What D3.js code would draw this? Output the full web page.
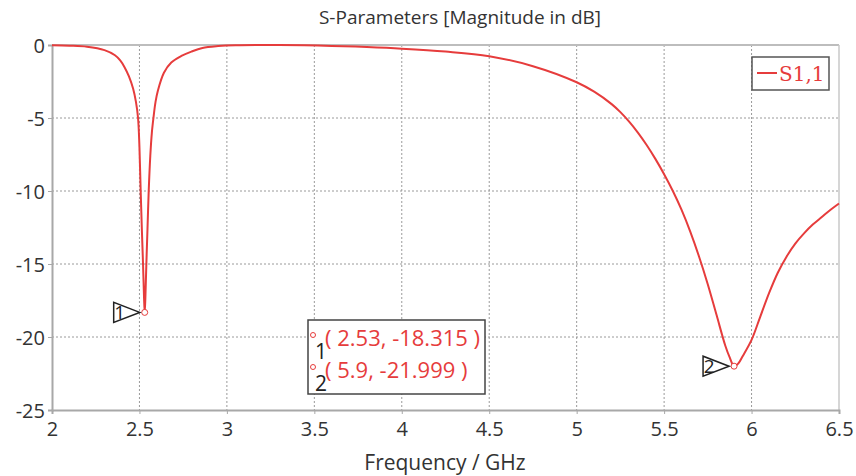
<!DOCTYPE html>
<html><head><meta charset="utf-8">
<script src="https://cdn.jsdelivr.net/npm/d3@7"></script>
<style>
html,body{margin:0;padding:0;background:#fff;}
svg{display:block;}
text{font-family:"Open Sans","Noto Sans",sans-serif;}
</style></head>
<body>
<svg id="chart" width="856" height="476"></svg>
<script>
// ---- data ----
const freq = [2.0,2.1,2.2,2.3,2.36,2.39,2.414,2.44,2.464,2.48,2.492,2.5,2.507,2.514,2.5205,2.526,2.53,2.534,2.5395,2.546,2.553,2.562,2.571,2.58,2.592,2.606,2.64,2.682,2.74,2.797,2.86,2.95,3.05,3.3,3.6,3.8,4.0,4.25,4.5,4.75,5.0,5.1,5.2,5.25,5.3,5.35,5.4,5.45,5.5,5.55,5.6,5.65,5.7,5.75,5.8,5.85,5.875,5.9,5.925,5.95,6.0,6.05,6.1,6.15,6.2,6.25,6.3,6.35,6.4,6.45,6.5];
const s11  = [-0.02,-0.05,-0.12,-0.35,-0.7,-1.05,-1.5,-2.15,-3.0,-3.9,-5.0,-7.0,-10.0,-12.7,-15.0,-17.2,-18.315,-17.3,-15.0,-12.6,-10.0,-7.6,-6.0,-5.0,-3.9,-3.1,-1.9,-1.2,-0.75,-0.45,-0.2,-0.07,-0.01,0.0,-0.06,-0.14,-0.25,-0.45,-0.77,-1.45,-2.55,-3.2,-4.05,-4.6,-5.25,-6.0,-6.85,-7.8,-8.85,-10.0,-11.3,-12.8,-14.5,-16.4,-18.5,-20.6,-21.4,-21.999,-21.8,-21.3,-20.2,-18.6,-17.0,-15.6,-14.5,-13.6,-12.9,-12.3,-11.8,-11.3,-10.86];
const xTicks = [2,2.5,3,3.5,4,4.5,5,5.5,6,6.5];
const yTicks = [0,-5,-10,-15,-20,-25];
const markerX = [2.53,5.9];
const markerY = [-18.315,-21.999];
const markerLabels = ["( 2.53, -18.315 )","( 5.9, -21.999 )"];
const seriesName = "S1,1";
const titleText = "S-Parameters [Magnitude in dB]";
const xLabel = "Frequency / GHz";

// ---- layout ----
const svg = d3.select("#chart");
const L = 52, R = 839, T = 45, B = 410;
const x = d3.scaleLinear().domain([2,6.5]).range([L,R]);
const y = d3.scaleLinear().domain([-25,0]).range([B,T]);
const red = "#e63c3c";

// grid
svg.append("g").selectAll("line").data(xTicks.slice(1,-1)).join("line")
  .attr("x1",d=>x(d)).attr("x2",d=>x(d)).attr("y1",T).attr("y2",B)
  .attr("stroke","#9a9a9a").attr("stroke-width",1).attr("stroke-dasharray","2,2");
svg.append("g").selectAll("line").data(yTicks.slice(1,-1)).join("line")
  .attr("x1",L).attr("x2",R).attr("y1",d=>y(d)).attr("y2",d=>y(d))
  .attr("stroke","#9a9a9a").attr("stroke-width",1).attr("stroke-dasharray","2,2");

// frame
svg.append("line").attr("x1",L).attr("x2",R).attr("y1",T).attr("y2",T).attr("stroke","#bdbdbd").attr("stroke-width",2);
svg.append("line").attr("x1",R).attr("x2",R).attr("y1",T).attr("y2",B).attr("stroke","#c8c8c8").attr("stroke-width",1.5);

// axes
const fmt = d => String(d);
const xAxis = svg.append("g").attr("transform",`translate(0,${B})`)
  .call(d3.axisBottom(x).tickValues(xTicks).tickFormat(fmt).tickSize(4).tickPadding(5));
const yAxis = svg.append("g").attr("transform",`translate(${L},0)`)
  .call(d3.axisLeft(y).tickValues(yTicks).tickFormat(fmt).tickSize(4).tickPadding(3));
[xAxis,yAxis].forEach(g=>{
  g.select(".domain").attr("stroke","#a8a8a8").attr("stroke-width",2);
  g.selectAll(".tick line").attr("stroke","#a8a8a8");
  g.selectAll(".tick text").attr("fill","#333").style("font-size","20px").style("font-family",'"Open Sans",sans-serif');
});
xAxis.selectAll(".tick text").attr("dy","0.85em");
yAxis.selectAll(".tick text").attr("dy","0.35em");

// title & x label
svg.append("text").attr("x",460).attr("y",24).attr("text-anchor","middle")
  .style("font-size","19px").attr("fill","#333").text(titleText);
svg.append("text").attr("x",445).attr("y",470).attr("text-anchor","middle")
  .style("font-size","21px").attr("fill","#333").text(xLabel);

// curve
const line = d3.line().x((d,i)=>x(freq[i])).y((d,i)=>y(s11[i])).curve(d3.curveCatmullRom.alpha(0.5));
svg.append("path").datum(s11).attr("d",line).attr("fill","none")
  .attr("stroke",red).attr("stroke-width",2);

// markers
markerX.forEach((mx,i)=>{
  const px = x(mx), py = y(markerY[i]);
  svg.append("circle").attr("cx",px).attr("cy",py).attr("r",3).attr("fill","#fff").attr("stroke",red).attr("stroke-width",1);
  const tx = px-5, g = svg.append("g");
  g.append("path").attr("d",`M${tx},${py} L${tx-26},${py-10} L${tx-26},${py+10} Z`)
    .attr("fill","none").attr("stroke","#222").attr("stroke-width",1.5);
  g.append("text").attr("x",tx-20).attr("y",py+7).attr("text-anchor","middle")
    .style("font-size","19px").attr("fill","#222").text(String(i+1));
});

// marker box
const bx = 308, by = 320, bw = 177, bh = 74;
svg.append("rect").attr("x",bx).attr("y",by).attr("width",bw).attr("height",bh)
  .attr("fill","#fff").attr("stroke","#444").attr("stroke-width",1.5);
markerLabels.forEach((t,i)=>{
  const yy = by + 25 + i*32;
  svg.append("circle").attr("cx",bx+5).attr("cy",yy-10).attr("r",2.5).attr("fill","none").attr("stroke",red).attr("stroke-width",1);
  svg.append("text").attr("x",bx+7).attr("y",yy+14).style("font-size","21px").attr("fill","#222").text(String(i+1));
  svg.append("text").attr("x",bx+17).attr("y",yy+1).style("font-size","22px").attr("fill",red).text(t);
});

// legend
svg.append("rect").attr("x",752).attr("y",57).attr("width",77).attr("height",33)
  .attr("fill","#fff").attr("stroke","#555").attr("stroke-width",1.5);
svg.append("line").attr("x1",757).attr("x2",777).attr("y1",73).attr("y2",73).attr("stroke",red).attr("stroke-width",2);
svg.append("text").attr("x",779).attr("y",81).style("font-family",'"DejaVu Serif",serif').style("font-size","20px")
  .attr("fill",red).text(seriesName);
</script>
</body></html>
